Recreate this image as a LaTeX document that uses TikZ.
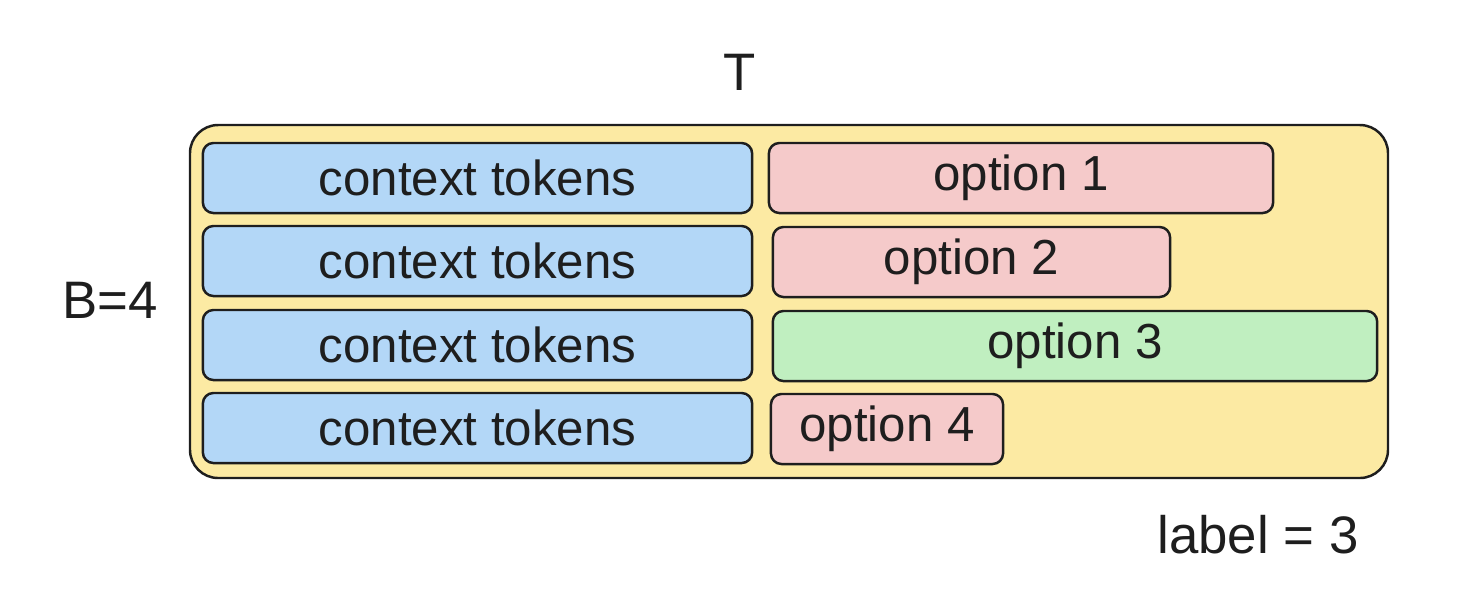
\documentclass[tikz,border=0pt]{standalone}
\usepackage{fontspec}
\setmainfont{Liberation Sans}
\definecolor{inkline}{HTML}{1E1E1E}
\definecolor{batchfill}{HTML}{FCEAA3}
\definecolor{ctxfill}{HTML}{B3D7F7}
\definecolor{optfill}{HTML}{F5CACA}
\definecolor{goodfill}{HTML}{C0EFC0}
\tikzset{
  sketch/.style={draw=inkline, line width=0.7pt, rounded corners=3pt, inner sep=0pt,
    font=\fontsize{14}{16}\selectfont, text=inkline},
  ctxbox/.style={sketch, fill=ctxfill, minimum width=5.49cm, minimum height=0.7cm},
  optbox/.style={sketch, fill=optfill, minimum height=0.7cm},
  rightbox/.style={sketch, fill=goodfill, minimum height=0.7cm},
  tag/.style={font=\fontsize{15}{18}\selectfont, text=inkline}
}
\begin{document}
\begin{tikzpicture}[x=0.01cm, y=-0.01cm]
        \useasboundingbox (0, 0) rectangle (1478, 602);
        % batch frame
        \draw[draw=inkline, line width=0.7pt, fill=batchfill, rounded corners=8pt] (190, 125) rectangle (1388, 478);

        % context rows
        \node[ctxbox] (ctx1) at (477.5, 178) {context tokens};
        \node[ctxbox] (ctx2) at (477.5, 261) {context tokens};
        \node[ctxbox] (ctx3) at (477.5, 345) {context tokens};
        \node[ctxbox] (ctx4) at (477.5, 428) {context tokens};

        % options
        \node[optbox, minimum width=5.04cm] (opt1) at (1021, 178) {option 1};
        \node[optbox, minimum width=3.97cm] (opt2) at (971.5, 262) {option 2};
        \node[rightbox, minimum width=6.04cm] (opt3) at (1075, 346) {option 3};
        \node[optbox, minimum width=2.32cm] (opt4) at (887, 429) {option 4};

        % labels
        \node[tag] (seqlen) at (740, 72) {T};
        \node[tag] (batch) at (110, 300) {B=4};
        \node[tag] (answer) at (1258, 535) {label = 3};
    \end{tikzpicture}
\end{document}
